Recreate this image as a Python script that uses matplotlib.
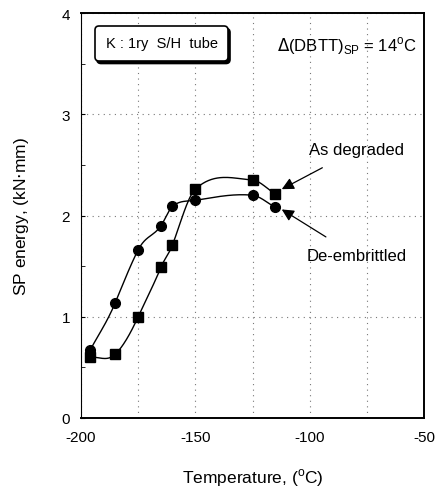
import numpy as np
import matplotlib.pyplot as plt
from matplotlib.patches import FancyBboxPatch
from matplotlib.transforms import IdentityTransform

plt.rcParams['font.family'] = ['Liberation Sans', 'DejaVu Sans']
plt.rcParams['axes.unicode_minus'] = False

# As degraded (squares)
temp_deg = [-196, -185, -175, -165, -160, -150, -125, -115]
sp_deg = [0.60, 0.63, 1.00, 1.49, 1.71, 2.26, 2.35, 2.21]

# De-embrittled (circles)
temp_de = [-196, -185, -175, -165, -160, -150, -125, -115]
sp_de = [0.67, 1.14, 1.66, 1.90, 2.09, 2.15, 2.20, 2.08]

x_ticks = [-200, -150, -100, -50]
y_ticks = [0, 1, 2, 3, 4]


def smooth(x, y, n=40, k=1.15):
    # Catmull-Rom style curve through the measured points
    x = np.asarray(x, float)
    y = np.asarray(y, float)
    m = np.zeros(len(x))
    m[0] = (y[1] - y[0]) / (x[1] - x[0])
    m[-1] = (y[-1] - y[-2]) / (x[-1] - x[-2])
    for i in range(1, len(x) - 1):
        m[i] = k * (y[i + 1] - y[i - 1]) / (x[i + 1] - x[i - 1])
    xs_all, ys_all = [], []
    for i in range(len(x) - 1):
        h = x[i + 1] - x[i]
        t = np.linspace(0, 1, n)
        h00 = 2 * t ** 3 - 3 * t ** 2 + 1
        h10 = t ** 3 - 2 * t ** 2 + t
        h01 = -2 * t ** 3 + 3 * t ** 2
        h11 = t ** 3 - t ** 2
        xs_all.append(x[i] + t * h)
        ys_all.append(h00 * y[i] + h10 * h * m[i] + h01 * y[i + 1] + h11 * h * m[i + 1])
    return np.concatenate(xs_all), np.concatenate(ys_all)


fig = plt.figure(figsize=(4.4, 4.89), dpi=100)
ax = fig.add_axes([81 / 440, 1 - 419 / 489, 343 / 440, 405 / 489])

xs, ys = smooth(temp_deg, sp_deg)
ax.plot(xs, ys, color='black', lw=1)
xs, ys = smooth(temp_de, sp_de)
ax.plot(xs, ys, color='black', lw=1)
ax.plot(temp_deg, sp_deg, 's', color='black', ms=7, zorder=3)
ax.plot(temp_de, sp_de, 'o', color='black', ms=7, zorder=3)

ax.set_xlim(-200, -50)
ax.set_ylim(0, 4)
ax.set_xticks(x_ticks)
ax.set_yticks(y_ticks)
ax.set_yticks(np.arange(0.5, 4, 1), minor=True)
ax.set_xticks([-175, -125, -75], minor=True)
ax.tick_params(axis='both', which='both', direction='in', labelsize=11, length=3)
ax.tick_params(axis='x', which='both', length=0, pad=9)
ax.tick_params(axis='y', which='both', pad=8)
ax.grid(True, which='major', axis='y', linestyle=(0, (1, 4)), color='#777777', lw=0.8)
ax.grid(True, which='both', axis='x', linestyle=(0, (1, 4)), color='#777777', lw=0.8)
for s in ['bottom', 'right', 'top']:
    ax.spines[s].set_linewidth(1.4)
ax.spines['left'].set_linewidth(0.8)

ax.set_xlabel('Temperature, ($^{\\mathregular{o}}$C)', fontsize=12.5, labelpad=16)
ax.set_ylabel('SP energy, (kN$\\cdot$mm)', fontsize=12.5, labelpad=22)

# label box with a drop shadow, placed in pixels
shadow = FancyBboxPatch((97, 424.5), 133, 35, boxstyle='round,pad=0,rounding_size=4',
                        fc='black', ec='black', lw=1.2, transform=IdentityTransform(), zorder=4)
box = FancyBboxPatch((95, 427), 133, 35, boxstyle='round,pad=0,rounding_size=4',
                     fc='white', ec='black', lw=1.2, transform=IdentityTransform(), zorder=5)
ax.add_patch(shadow)
ax.add_patch(box)
ax.text(161.5, 444.5, 'K : 1ry  S/H  tube', ha='center', va='center', fontsize=10.5,
        transform=IdentityTransform(), zorder=6)
ax.text(-83.5, 3.68, '$\\Delta$(DBTT)$_{\\mathregular{SP}}$ = 14$^{\\mathregular{o}}$C',
        ha='center', va='center', fontsize=12)

ax.annotate('As degraded', xy=(-112.2, 2.26), xytext=(-79.5, 2.65), ha='center', va='center',
            fontsize=12, arrowprops=dict(arrowstyle='-|>', color='black', lw=0.9,
                                         mutation_scale=18, shrinkA=12, shrinkB=0))
ax.annotate('De-embrittled', xy=(-112.2, 2.06), xytext=(-79.5, 1.60), ha='center', va='center',
            fontsize=12, arrowprops=dict(arrowstyle='-|>', color='black', lw=0.9,
                                         mutation_scale=18, shrinkA=12, shrinkB=0))

fig.savefig('out.png', dpi=100)
